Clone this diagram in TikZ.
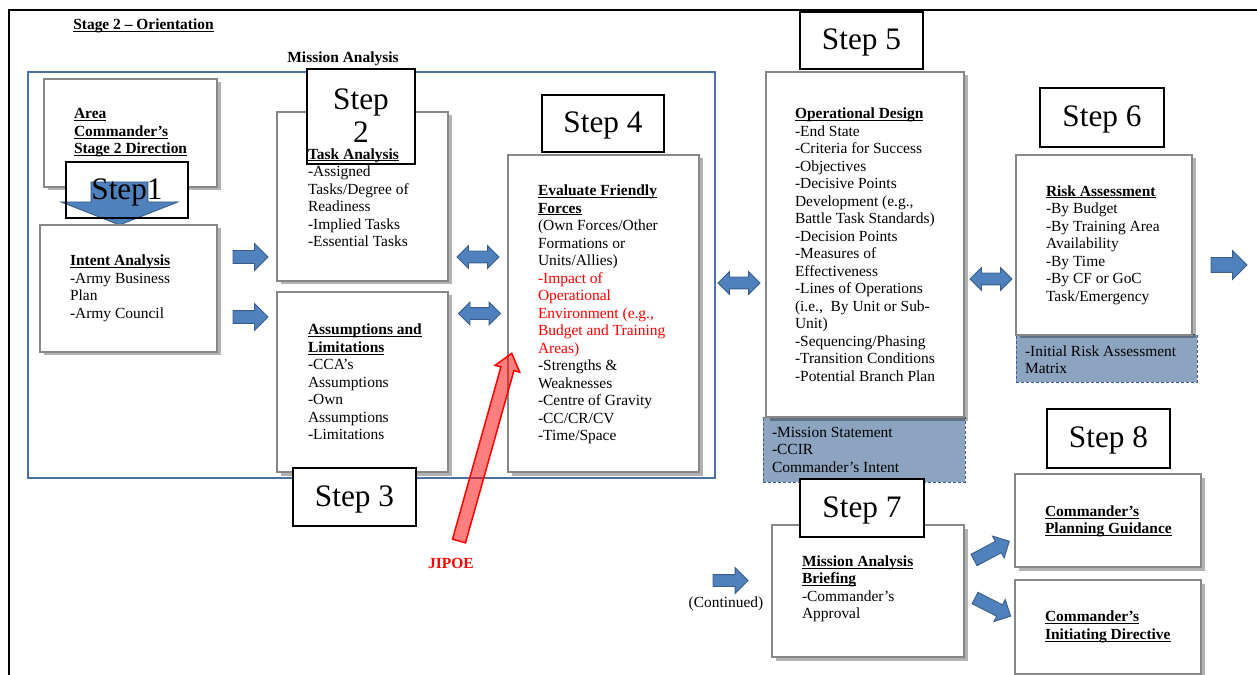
\documentclass[tikz,border=0pt]{standalone}
\usepackage{fontspec}
\setmainfont{Liberation Serif}
\usetikzlibrary{shapes.arrows,shadows,fit,calc}

\definecolor{arrowblue}{RGB}{79,129,189}
\definecolor{arrowedge}{RGB}{56,93,138}
\definecolor{frameblue}{RGB}{74,112,168}
\definecolor{boxgray}{RGB}{135,135,135}
\definecolor{notefill}{RGB}{141,164,193}
\definecolor{noteedge}{RGB}{60,95,145}

% underline drawn close to the baseline, without changing line depth
\newcommand{\ulin}[1]{\setbox0\hbox{#1}\rlap{\rule[-1.2pt]{\wd0}{0.5pt}}\box0}
% bold underlined heading line
\newcommand{\hd}[1]{\ulin{\textbf{#1}}}

\begin{document}
\begin{tikzpicture}[x=0.02cm, y=-0.02cm,
  every node/.style={inner sep=0pt, outer sep=0pt},
  gbox/.style={draw=boxgray, line width=0.04cm, fill=white,
    drop shadow={shadow xshift=0.07cm, shadow yshift=-0.07cm, opacity=0.3, fill=black}},
  stepbox/.style={draw=black, line width=0.04cm, fill=white},
  steptext/.style={font=\fontsize{17.8}{19}\selectfont, align=center},
  note/.style={draw=noteedge, line width=0.02cm, dash pattern=on 0.06cm off 0.04cm, fill=notefill},
  body/.style={font=\fontsize{8.8}{9.96}\selectfont, align=left, anchor=west},
  headtext/.style={font=\fontsize{8.8}{9.96}\selectfont\bfseries},
  rarrow/.style={single arrow, fill=arrowblue, draw=arrowedge, line width=0.5pt,
    anchor=tail, inner xsep=0pt, single arrow tip angle=90},
  darrow/.style={double arrow, fill=arrowblue, draw=arrowedge, line width=0.5pt,
    inner xsep=0pt, double arrow tip angle=90},
]
\useasboundingbox (0,0) rectangle (1257,675);

% outer frame (top and left edges)
\draw[line width=0.05cm] (1257,10) -- (9,10) -- (9,675);

% headings
\node[headtext] (stage) at (143.5,26) {\ulin{Stage 2 – Orientation}};
\node[headtext] (malabel) at (343,59) {Mission Analysis};

% mission analysis frame
\node[draw=frameblue, line width=0.04cm, fit={(28,72) (715,478)}] (mframe) {};

% ---- Step 1 ----
\node[gbox, fit={(44,79) (217,187)}] (area) {};
\node[body] (areaT) at ($(area.west)+(30,0)$)
  {\hd{Area}\\\hd{Commander’s}\\\hd{Stage 2 Direction}};
\node[stepbox, draw=none, fit={(66,162) (188,218)}] (s1bg) {};
\node[rarrow, rotate=-90, minimum height=0.86cm, inner ysep=0.56cm,
  single arrow head extend=0.6cm, single arrow tip angle=137] (down) at (119.5,182) {};
\node[stepbox, fill=none, fit={(66,162) (188,218)}] (s1) {};
\node[steptext] (s1T) at ($(s1.center)+(0,2)$) {Step1};

\node[gbox, fit={(40,225) (217,352)}] (intent) {};
\node[body] (intentT) at ($(intent.west)+(30,0)$)
  {\hd{Intent Analysis}\\-Army Business\\Plan\\-Army Council};

\node[rarrow, minimum height=0.7cm, inner ysep=0.12cm, single arrow head extend=0.14cm] (a1) at (233,257) {};
\node[rarrow, minimum height=0.7cm, inner ysep=0.12cm, single arrow head extend=0.14cm] (a2) at (233,317) {};

% ---- Step 2 ----
\node[gbox, fit={(277,112) (448,281)}] (task) {};
\node[stepbox, fit={(307,69) (415,164)}] (s2) {};
\node[steptext] (s2T) at ($(s2.center)+(0,-1)$) {Step\\2};
\node[body] (taskT) at ($(task.west)+(31,1)$)
  {\hd{Task Analysis}\\-Assigned\\Tasks/Degree of\\Readiness\\-Implied Tasks\\-Essential Tasks};

% ---- Step 3 ----
\node[gbox, fit={(277,292) (448,472)}] (assume) {};
\node[body] (assumeT) at ($(assume.west)+(31,0)$)
  {\hd{Assumptions and}\\\hd{Limitations}\\-CCA’s\\Assumptions\\-Own\\Assumptions\\-Limitations};
\node[stepbox, fit={(293,468) (416,526)}] (s3) {};
\node[steptext] (s3T) at ($(s3.center)+(0,2)$) {Step 3};

\node[darrow, minimum height=0.84cm, inner ysep=0.11cm, double arrow head extend=0.11cm] (d1) at (478,257) {};
\node[darrow, minimum height=0.84cm, inner ysep=0.11cm, double arrow head extend=0.11cm] (d2) at (479.5,313.5) {};

% ---- Step 4 ----
\node[stepbox, fit={(542,95) (664,152)}] (s4) {};
\node[steptext] (s4T) at ($(s4.center)+(0,2)$) {Step 4};
\node[gbox, fit={(508,155) (699,472)}] (evalf) {};
\node[body] (evalT) at ($(evalf.west)+(30,1)$)
  {\hd{Evaluate Friendly}\\\hd{Forces}\\(Own Forces/Other\\Formations or\\Units/Allies)\\
   \textcolor{red}{-Impact of}\\\textcolor{red}{Operational}\\\textcolor{red}{Environment (e.g.,}\\
   \textcolor{red}{Budget and Training}\\\textcolor{red}{Areas)}\\-Strengths \&\\Weaknesses\\
   -Centre of Gravity\\-CC/CR/CV\\-Time/Space};

% JIPOE input
\node[single arrow, fill=red, fill opacity=0.5, draw=red, line width=0.03cm,
  minimum height=3.9cm, inner ysep=0.12cm, inner xsep=0pt, single arrow head extend=0.12cm,
  single arrow tip angle=77, rotate=74.3, anchor=tail] (jarrow) at (459,541) {};
\node[headtext, text=red] (jipoe) at (451,563) {JIPOE};

\node[darrow, minimum height=0.84cm, inner ysep=0.11cm, double arrow head extend=0.11cm] (d3) at (739,283) {};

% ---- Step 5 ----
\node[stepbox, fit={(800,12) (923,69)}] (s5) {};
\node[steptext] (s5T) at ($(s5.center)+(0,2)$) {Step 5};
\node[note, fit={(763,417) (965,482)}] (opnote) {};
\node[body] (opnoteT) at ($(opnote.west)+(9,0)$)
  {-Mission Statement\\-CCIR\\Commander’s Intent};
\node[gbox, fit={(766,72) (964,417)}] (opdes) {};
\node[body] (opdesT) at ($(opdes.west)+(29,0)$)
  {\hd{Operational Design}\\-End State\\-Criteria for Success\\-Objectives\\-Decisive Points\\
   Development (e.g.,\\Battle Task Standards)\\-Decision Points\\-Measures of\\Effectiveness\\
   -Lines of Operations\\(i.e.,\ \ By Unit or Sub-\\Unit)\\-Sequencing/Phasing\\
   -Transition Conditions\\-Potential Branch Plan};

\node[darrow, minimum height=0.84cm, inner ysep=0.11cm, double arrow head extend=0.11cm] (d4) at (991,279) {};

% ---- Step 6 ----
\node[stepbox, fit={(1040,88) (1164,147)}] (s6) {};
\node[steptext] (s6T) at ($(s6.center)+(0,2)$) {Step 6};
\node[note, fit={(1016,335) (1197,382)}] (risknote) {};
\node[body] (risknoteT) at ($(risknote.west)+(9,1)$)
  {-Initial Risk Assessment\\Matrix};
\node[gbox, fit={(1016,155) (1192,335)}] (risk) {};
\node[body] (riskT) at ($(risk.west)+(30,0)$)
  {\hd{Risk Assessment}\\-By Budget\\-By Training Area\\Availability\\-By Time\\
   -By CF or GoC\\Task/Emergency};

\node[rarrow, minimum height=0.72cm, inner ysep=0.14cm, single arrow head extend=0.14cm] (a3) at (1211,265) {};

% ---- Step 7 ----
\node[gbox, fit={(772,525) (964,657)}] (brief) {};
\node[stepbox, fit={(800,479) (924,537)}] (s7) {};
\node[steptext] (s7T) at ($(s7.center)+(0,2)$) {Step 7};
\node[body] (briefT) at ($(brief.west)+(30,-2)$)
  {\hd{Mission Analysis}\\\hd{Briefing}\\-Commander’s\\Approval};

\node[rarrow, minimum height=0.7cm, inner ysep=0.11cm, single arrow head extend=0.14cm] (a4) at (713,580.5) {};
\node[font=\fontsize{8.8}{9.96}\selectfont] (cont) at (726,604) {(Continued)};

% ---- Step 8 ----
\node[stepbox, fit={(1047,409) (1170,468)}] (s8) {};
\node[steptext] (s8T) at ($(s8.center)+(0,2)$) {Step 8};
\node[gbox, fit={(1015,474) (1201,567)}] (plan) {};
\node[body] (planT) at ($(plan.west)+(30,1)$)
  {\hd{Commander’s}\\\hd{Planning Guidance}};
\node[gbox, fit={(1015,580) (1201,674)}] (initd) {};
\node[body] (initdT) at ($(initd.west)+(30,0)$)
  {\hd{Commander’s}\\\hd{Initiating Directive}};

\node[rarrow, rotate=28, minimum height=0.8cm, inner ysep=0.12cm, single arrow head extend=0.12cm] (g1) at (974,560) {};
\node[rarrow, rotate=-27, minimum height=0.8cm, inner ysep=0.12cm, single arrow head extend=0.12cm] (g2) at (975,598) {};

\end{tikzpicture}
\end{document}
